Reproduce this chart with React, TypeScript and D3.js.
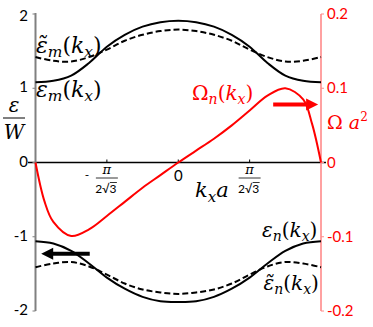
import React from 'react';
import * as d3 from 'd3';

// kx in units of pi/(2*sqrt(3))
const kGrid = [-2, -1.75, -1.5, -1.25, -1, -0.75, -0.5, -0.25, 0, 0.25, 0.5, 0.75, 1, 1.25, 1.5, 1.75, 2];

const epsM = [1.08, 1.1, 1.17, 1.34, 1.56, 1.72, 1.83, 1.89, 1.91, 1.89, 1.83, 1.72, 1.56, 1.34, 1.17, 1.1, 1.08];
const epsMTilde = [1.42, 1.37, 1.36, 1.42, 1.52, 1.64, 1.72, 1.77, 1.79, 1.77, 1.72, 1.64, 1.52, 1.42, 1.36, 1.37, 1.42];
const epsN = [-1.06, -1.09, -1.19, -1.36, -1.55, -1.7, -1.81, -1.87, -1.88, -1.87, -1.81, -1.7, -1.55, -1.36, -1.19, -1.09, -1.06];
const epsNTilde = [-1.41, -1.36, -1.34, -1.4, -1.51, -1.63, -1.71, -1.75, -1.77, -1.75, -1.71, -1.63, -1.51, -1.4, -1.34, -1.36, -1.41];

const omegaK = [-2, -1.875, -1.75, -1.5, -1.25, -1, -0.75, -0.5, -0.25, 0, 0.25, 0.5, 0.75, 1, 1.25, 1.5, 1.75, 1.875, 2];
const omega = [0, -0.052, -0.08, -0.099, -0.09, -0.072, -0.053, -0.034, -0.017, 0, 0.016, 0.032, 0.05, 0.07, 0.09, 0.1, 0.085, 0.052, 0];

const leftTicks = [2, 1, 0, -1, -2];
const rightTicks = [0.2, 0.1, 0, -0.1, -0.2];

const W = 373;
const H = 327;
const RED = '#ff0000';
const MATH = '"DejaVu Serif", serif';
const SANS = 'Lato, "Open Sans", sans-serif';

const x = d3.scaleLinear().domain([-2, 2]).range([35.5, 321]);
const yL = d3.scaleLinear().domain([-2, 2]).range([311, 14]);
const yR = d3.scaleLinear().domain([-0.2, 0.2]).range([311, 14]);

const lineL = (vals: number[]) =>
  d3.line<number>().x((_, i) => x(kGrid[i])).y(d => yL(d)).curve(d3.curveCatmullRom.alpha(0.5))(vals) || '';

const omegaPath =
  d3.line<number>().x((_, i) => x(omegaK[i])).y(d => yR(d)).curve(d3.curveCatmullRom.alpha(0.5))(omega) || '';

// math-ish label: base, sub, then (k_x)
const Eps = ({ px, py, sub, tilde, color = '#000', anchor = 'start', base = 'ε', upright, size = 20 }: any) => (
  <text x={px} y={py} fontFamily={MATH} fontStyle="italic" fontSize={size} fill={color} textAnchor={anchor}>
    <tspan fontStyle={upright ? 'normal' : 'italic'}>{tilde ? base + '\u0303' : base}</tspan>
    <tspan fontSize={size * 0.7} dy={4}>{sub}</tspan>
    <tspan fontStyle="normal" dy={-4}>(</tspan>
    <tspan>k</tspan>
    <tspan fontSize={size * 0.7} dy={4}>x</tspan>
    <tspan fontStyle="normal" dy={-4}>)</tspan>
  </text>
);

const Frac = ({ cx, sign }: { cx: number; sign?: boolean }) => (
  <g>
    {sign && (
      <text x={cx - 20} y={179} fontFamily={SANS} fontSize={12} textAnchor="middle">-</text>
    )}
    <text x={cx} y={174} fontFamily={MATH} fontStyle="italic" fontSize={13} textAnchor="middle">π</text>
    <line x1={cx - 11} x2={cx + 11} y1={178} y2={178} stroke="#000" strokeWidth={0.8} />
    <text x={cx - 1} y={193} fontFamily={SANS} fontSize={12} textAnchor="middle">2√3</text>
    <line x1={cx + 3} x2={cx + 10} y1={182.5} y2={182.5} stroke="#000" strokeWidth={0.8} />
  </g>
);

export default function App() {
  const y0 = yL(0);
  return (
    <svg width={W} height={H} style={{ position: 'absolute', left: 0, top: 0 }}>
      <rect width={W} height={H} fill="#fff" />

      {/* x axis */}
      <line x1={28} x2={326} y1={y0} y2={y0} stroke="#000" strokeWidth={1.3} />
      {[-1, 0, 1].map(t => (
        <line key={t} x1={x(t)} x2={x(t)} y1={y0} y2={y0 - 3} stroke="#000" strokeWidth={1} />
      ))}

      {/* left axis */}
      <line x1={x(-2)} x2={x(-2)} y1={yL(2) - 1} y2={yL(-2)} stroke="#808080" strokeWidth={2} />
      {leftTicks.map(t => (
        <g key={t}>
          <line x1={x(-2) - 3} x2={x(-2)} y1={yL(t)} y2={yL(t)} stroke="#808080" strokeWidth={1} />
          <text x={28} y={yL(t) + 4 + (t === 2 ? 3 : 0)} fontFamily={SANS} fontSize={15} textAnchor="end">{t}</text>
        </g>
      ))}

      {/* right axis */}
      <line x1={x(2)} x2={x(2)} y1={yR(0.2)} y2={yR(-0.2)} stroke="#ff8a8a" strokeWidth={1.6} />
      {rightTicks.map(t => (
        <g key={t}>
          <line x1={x(2)} x2={x(2) + 3} y1={yR(t)} y2={yR(t)} stroke="#ff8a8a" strokeWidth={1} />
          <text x={327} y={yR(t) + 5} fontFamily={SANS} fontSize={15} fill={RED}>{t}</text>
        </g>
      ))}

      {/* bands */}
      <path d={lineL(epsM)} fill="none" stroke="#000" strokeWidth={2} />
      <path d={lineL(epsMTilde)} fill="none" stroke="#000" strokeWidth={2} strokeDasharray="6,3" />
      <path d={lineL(epsN)} fill="none" stroke="#000" strokeWidth={2} />
      <path d={lineL(epsNTilde)} fill="none" stroke="#000" strokeWidth={2} strokeDasharray="6,3" />

      {/* Berry curvature */}
      <path d={omegaPath} fill="none" stroke={RED} strokeWidth={2} />

      {/* arrows */}
      <line x1={x(1.33)} x2={x(1.83)} y1={yR(0.078)} y2={yR(0.078)} stroke={RED} strokeWidth={4} />
      <path d={`M${x(1.96)},${yR(0.078)} l-12,-6 v12 z`} fill={RED} />
      <line x1={x(-1.24)} x2={x(-1.8)} y1={yL(-1.23)} y2={yL(-1.23)} stroke="#000" strokeWidth={4} />
      <path d={`M${x(-1.92)},${yL(-1.23)} l12,-6 v12 z`} fill="#000" />

      {/* labels */}
      <Eps px={36} py={yL(1.48)} sub="m" tilde size={22} />
      <Eps px={36} py={yL(0.88)} sub="m" size={22} />
      <Eps px={x(1.95)} py={yL(-1.0)} sub="n" anchor="end" />
      <Eps px={x(1.97)} py={yL(-1.72)} sub="n" anchor="end" tilde />
      <Eps px={192} py={yR(0.084)} sub="n" base="Ω" color={RED} upright />

      <text x={327} y={129} fontFamily={MATH} fontSize={19} fill={RED}>
        Ω <tspan fontStyle="italic">a</tspan>
        <tspan fontSize={12} dy={-8}>2</tspan>
      </text>

      <text x={195} y={197} fontFamily={MATH} fontStyle="italic" fontSize={21}>
        k<tspan fontSize={15} dy={5}>x</tspan>
        <tspan dy={-5}>a</tspan>
      </text>

      {/* epsilon / W */}
      <text x={14} y={112} fontFamily={MATH} fontStyle="italic" fontSize={20} textAnchor="middle">ε</text>
      <line x1={3} x2={25} y1={118} y2={118} stroke="#000" strokeWidth={1} />
      <text x={14} y={139} fontFamily={MATH} fontStyle="italic" fontSize={20} textAnchor="middle">W</text>

      {/* x tick labels */}
      <text x={x(0)} y={181} fontFamily={SANS} fontSize={15} textAnchor="middle">0</text>
      <Frac cx={x(-1)} sign />
      <Frac cx={x(1)} />
    </svg>
  );
}
